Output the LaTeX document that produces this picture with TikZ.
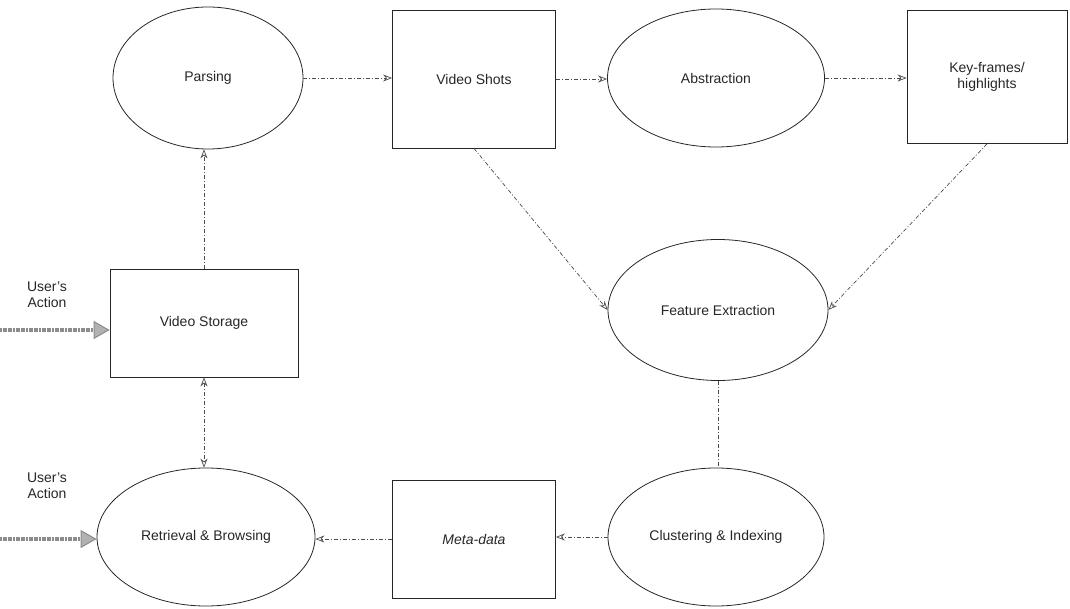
\documentclass[tikz,border=0pt]{standalone}
\usepackage{fontspec}
\setmainfont{Liberation Sans}
\usetikzlibrary{arrows.meta,shapes.geometric}
\begin{document}
\begin{tikzpicture}[x=1pt,y=-1pt,
  every node/.style={font=\fontsize{14}{16}\selectfont, text=black!85},
  boxnode/.style={draw=black!85, line width=0.8pt, rectangle, inner sep=0pt, align=center},
  ellnode/.style={draw=black!85, line width=0.8pt, ellipse, inner sep=0pt, align=center},
  conn/.style={draw=black!70, line width=0.7pt, dash pattern=on 4pt off 2pt on 1pt off 2pt, -{Stealth[length=9pt,width=7pt,open]}},
  plainconn/.style={draw=black!70, line width=0.7pt, dash pattern=on 4pt off 2pt on 1pt off 2pt},
  useraction/.style={draw=black!45, line width=4.5pt, dash pattern=on 2pt off 0.6pt, -{Triangle[length=16pt,width=18pt,fill=black!30,line width=1pt]}},
  lbl/.style={align=center, inner sep=0pt}]
\useasboundingbox (0,0) rectangle (1070,609);
% top row
\node[ellnode, minimum width=190pt, minimum height=142pt] (parse) at (208,78) {Parsing};
\node[boxnode, minimum width=163pt, minimum height=138pt] (shots) at (474,79) {Video Shots};
\node[ellnode, minimum width=217pt, minimum height=138pt] (abst) at (716,78) {Abstraction};
\node[boxnode, minimum width=160pt, minimum height=133pt] (keyf) at (987,77) {Key-frames/\\highlights};
% middle
\node[boxnode, minimum width=188pt, minimum height=108pt] (store) at (204,323) {Video Storage};
\node[ellnode, minimum width=220pt, minimum height=141pt] (feat) at (718,310) {Feature Extraction};
% bottom row
\node[ellnode, minimum width=218pt, minimum height=138pt] (retr) at (206,537) {Retrieval \& Browsing};
\node[boxnode, minimum width=163pt, minimum height=118pt] (meta) at (474,539) {\itshape Meta-data};
\node[ellnode, minimum width=216pt, minimum height=138pt] (clus) at (716,537) {Clustering \& Indexing};
% user's action
\node[lbl] (ua1) at (47,295) {User's\\Action};
\node[lbl] (ua2) at (47,486) {User's\\Action};
\coordinate (ua1s) at (0,330);
\coordinate (ua2s) at (0,539);
\draw[useraction] (ua1s) -- (ua1s -| store.west);
\draw[useraction] (ua2s) -- (ua2s -| retr.west);
% connectors
\draw[conn] (parse.east) -- (parse.east -| shots.west);
\draw[conn] (shots.east) -- (shots.east -| abst.west);
\draw[conn] (abst.east) -- (abst.east -| keyf.west);
\draw[conn] (store.north) -- (store.north |- parse.south);
\draw[conn, {Stealth[length=9pt,width=7pt,open]}-{Stealth[length=9pt,width=7pt,open]}] (store.south) -- (store.south |- retr.north);
\draw[conn] (shots.south) -- (feat.west);
\draw[conn] (keyf.south) -- (feat.east);
\draw[plainconn] (feat.south) -- (feat.south |- clus.north);
\draw[conn] (clus.west) -- (clus.west -| meta.east);
\draw[conn] (meta.west) -- (meta.west -| retr.east);
\end{tikzpicture}
\end{document}
